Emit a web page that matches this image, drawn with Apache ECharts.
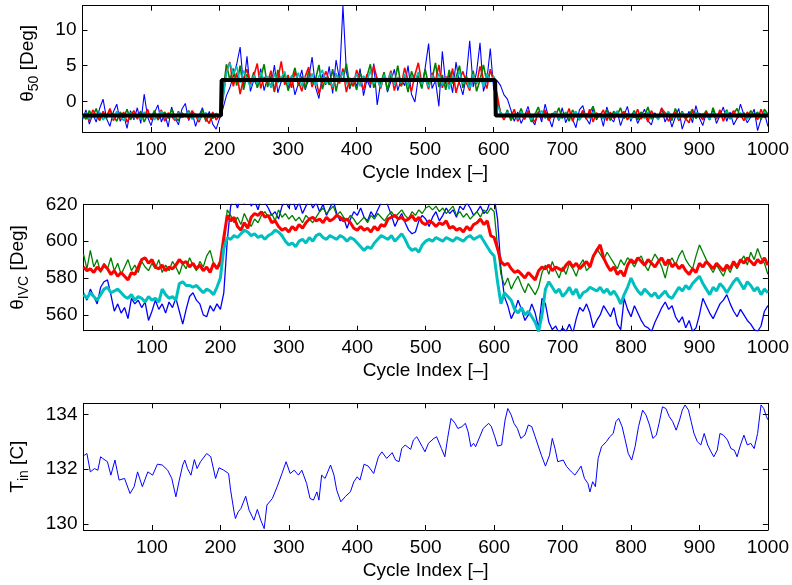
<!DOCTYPE html>
<html>
<head>
<meta charset="utf-8">
<script src="https://cdn.jsdelivr.net/npm/echarts@6/dist/echarts.min.js"></script>
<style>html,body{margin:0;padding:0;background:#fff}#c{width:792px;height:585px}</style>
</head>
<body>
<div id="c"></div>
<script>
// ---------- tick labels ----------
const X_TICKS = [100, 200, 300, 400, 500, 600, 700, 800, 900, 1000];
const Y1_TICKS = [0, 5, 10];
const Y2_TICKS = [560, 580, 600, 620];
const Y3_TICKS = [130, 132, 134];

// sampled cycles (every 5th cycle, 0..1000) for panels 1 and 2
const CYCLE_STEP = 5;
const CYCLES = [];
for (let i = 0; i <= 200; i++) CYCLES.push(i * CYCLE_STEP);

// ---------- panel 1: theta_50 ----------
const TH50_BLUE = [
-2.6,-1.2,-3.2,-1.8,-2.9,-1.0,0.3,-2.4,-3.5,-1.5,-0.4,-2.8,-1.9,-3.8,-1.3,-2.6,-0.9,-3.1,1.0,-2.2,
-3.4,-1.6,-0.5,-2.9,-1.7,-3.6,-0.8,-2.3,-3.3,-1.1,-0.3,-2.7,-1.5,-3.5,-2.0,-0.9,-2.8,-1.4,-3.2,-3.9,-2.4,
-1.0,0.8,1.9,3.5,5.2,7.6,2.1,6.3,1.4,3.0,2.2,4.6,1.5,3.4,2.0,5.1,1.2,2.8,4.0,1.8,
3.6,0.9,2.5,4.4,1.6,3.2,6.2,2.0,0.4,3.8,2.3,4.9,1.1,5.8,3.0,13.4,4.2,1.7,3.3,2.1,
4.6,0.8,3.0,1.9,5.3,-0.5,2.6,3.9,1.3,2.8,4.5,1.5,3.1,2.2,5.0,1.0,-0.1,3.4,2.0,4.7,
8.1,1.8,2.9,-0.7,7.0,2.4,3.8,1.2,5.5,2.6,0.9,3.5,8.5,2.0,4.1,8.2,1.4,3.0,7.4,1.6,
2.9,2.2,0.9,0.3,-1.2,-2.8,-1.5,-3.1,-2.0,-0.7,-2.5,-3.3,-1.4,-2.9,-0.4,-2.2,-3.6,-1.6,-2.7,-0.9,
-3.0,-1.8,-2.5,-3.7,-1.2,-0.6,-2.4,-3.2,-1.0,-2.6,-1.7,-3.5,-0.8,-2.3,-2.9,-1.3,-3.4,-2.0,-0.7,-2.8,
-1.5,-3.1,-2.1,-1.1,-2.7,-3.3,-1.6,-2.4,-0.9,-2.9,-1.8,-3.6,-2.2,-1.0,-3.9,-2.5,-1.4,-3.0,-0.6,-2.3,
-3.4,-1.7,-2.6,-1.2,-3.1,-2.0,-0.8,-2.8,-1.5,-3.3,-2.4,-0.4,-1.9,-3.0,-2.2,-1.1,-4.1,-2.5,-1.6,-3.5];
const TH50_GREEN = [
-1.9,-2.5,-1.3,-2.2,-1.0,-2.7,-1.6,-2.4,-1.2,-2.0,-2.8,-1.5,-2.3,-1.1,-2.6,-1.7,-2.1,-1.4,-2.9,-1.8,
-2.3,-1.3,-2.6,-2.0,-1.5,-2.4,-1.1,-2.2,-2.7,-1.6,-2.0,-1.3,-2.5,-1.8,-2.2,-1.2,-2.8,-1.9,-2.4,-1.7,-2.1,
1.2,5.2,3.0,4.6,2.2,5.0,1.6,3.8,2.5,4.1,1.9,3.3,5.2,2.0,3.6,1.3,4.4,2.7,3.9,1.5,
3.0,4.7,2.2,3.5,1.8,4.3,2.6,3.1,5.1,1.7,3.4,2.3,4.5,1.4,3.7,2.9,5.3,2.0,3.2,1.6,
4.0,2.8,3.5,5.2,1.9,3.3,2.4,4.1,1.5,3.8,2.6,5.0,2.1,3.4,1.3,4.2,2.9,3.6,1.8,4.5,
2.3,3.1,5.4,2.0,3.7,1.6,4.4,2.5,3.3,5.0,1.9,3.6,2.2,4.3,1.4,3.0,5.1,2.7,4.2,3.4,
0.0,-1.5,-2.4,-1.2,-2.7,-1.8,-2.2,-1.0,-2.5,-1.6,-2.9,-1.9,-0.8,-2.3,-1.4,-2.6,-1.7,-2.1,-0.9,-2.4,
-1.5,-2.8,-1.2,-2.0,-2.6,-1.3,-2.2,-1.6,-0.7,-2.5,-1.8,-2.3,-1.1,-2.7,-1.4,-2.0,-0.9,-2.4,-1.7,-2.2,
-1.3,-2.6,-1.5,-2.1,-0.8,-2.5,-1.8,-2.3,-1.2,-2.0,-1.6,-2.7,-1.0,-2.2,-1.4,-2.5,-1.9,-1.1,-2.4,-1.7,
-2.1,-1.3,-2.6,-0.9,-2.3,-1.5,-2.0,-1.2,-2.5,-1.8,-1.0,-2.2,-1.6,-2.4,-1.3,-2.0,-1.5,-2.6,-1.1,-1.8];
const TH50_RED = [
-2.3,-1.6,-2.8,-1.2,-2.1,-2.6,-1.4,-2.2,-1.0,-2.7,-1.8,-2.4,-1.5,-2.9,-2.0,-1.3,-2.5,-1.7,-2.2,-1.1,
-2.6,-1.9,-2.4,-1.2,-2.8,-1.6,-2.1,-2.7,-1.4,-2.3,-1.8,-2.5,-1.3,-2.0,-2.9,-1.7,-2.4,-3.1,-1.5,-2.6,-2.0,
0.5,4.2,5.5,2.1,4.0,1.0,3.2,4.5,2.4,3.6,5.3,1.8,3.4,2.6,4.3,1.5,3.1,5.6,2.3,3.7,
1.9,4.1,2.8,1.4,3.5,4.8,2.0,3.3,1.1,2.7,4.2,3.0,1.7,3.9,2.5,4.6,1.3,3.2,2.1,4.4,
2.9,1.6,3.8,2.4,5.0,3.1,1.8,3.6,2.7,4.3,1.5,3.4,2.2,4.7,2.9,1.4,3.7,5.4,2.5,3.3,
1.7,4.0,2.8,5.1,1.9,3.5,2.3,4.6,1.2,3.0,4.2,2.6,1.5,3.8,2.4,4.9,3.1,1.8,4.5,2.7,
1.0,-1.8,-2.6,-1.5,-2.3,-1.1,-2.8,-1.9,-2.5,-1.3,-2.2,-2.9,-1.6,-2.4,-1.2,-2.7,-2.0,-1.4,-2.6,-1.8,
-2.3,-1.0,-2.8,-1.7,-2.2,-1.3,-2.5,-1.1,-2.9,-1.6,-2.0,-1.2,-2.7,-1.5,-2.4,-1.8,-2.2,-1.4,-2.6,-1.9,
-2.3,-1.1,-2.5,-1.7,-2.9,-1.3,-2.1,-2.4,-1.0,-1.6,-2.8,-2.0,-1.5,-2.7,-1.9,-2.4,-3.0,-1.3,-2.2,-1.8,
-2.6,-1.4,-2.3,-1.7,-2.5,-1.2,-2.8,-1.6,-2.1,-1.3,-2.4,-1.9,-2.7,-1.5,-2.2,-1.8,-2.6,-1.1,-2.3,-1.9];
const TH50_CYAN = [
-2.2,-1.6,-2.5,-1.8,-2.3,-1.5,-2.6,-2.0,-1.7,-2.4,-1.4,-2.1,-2.7,-1.9,-1.6,-2.3,-2.0,-2.5,-1.5,-2.2,
-1.8,-2.6,-1.9,-1.4,-2.3,-2.1,-1.7,-2.5,-1.6,-2.2,-2.0,-1.5,-2.4,-1.8,-2.6,-1.9,-1.6,-2.3,-2.0,-1.7,-2.2,
0.2,4.0,5.4,3.8,4.9,2.6,4.3,3.1,2.0,3.7,2.4,4.1,2.9,3.5,1.9,3.9,2.6,3.3,4.2,2.3,
3.6,2.8,4.0,2.1,3.4,2.7,3.9,2.2,3.5,4.4,2.5,3.2,2.0,3.8,2.9,4.1,2.4,3.3,2.7,3.9,
2.1,3.6,2.8,4.3,2.5,3.1,2.0,3.7,2.9,4.0,2.3,3.4,2.6,3.8,2.2,3.5,2.8,4.1,2.4,3.2,
2.0,3.7,2.7,3.9,2.3,3.4,1.7,3.6,2.9,4.2,2.5,3.1,1.8,3.8,2.6,3.3,2.1,3.9,2.7,3.5,
-0.5,-1.6,-2.3,-1.5,-2.1,-1.8,-2.5,-1.4,-2.2,-1.9,-2.6,-1.7,-2.0,-1.3,-2.4,-1.8,-2.2,-1.5,-2.5,-2.0,
-1.6,-2.3,-1.9,-1.4,-2.6,-2.0,-1.7,-2.4,-1.5,-2.1,-1.8,-2.5,-1.6,-2.2,-1.9,-1.4,-2.3,-2.0,-1.7,-2.5,
-1.6,-2.1,-1.8,-2.4,-1.5,-2.2,-1.9,-2.6,-1.7,-2.0,-1.4,-2.3,-1.8,-2.5,-1.6,-2.1,-1.9,-2.4,-1.5,-2.2,
-1.7,-2.0,-2.5,-1.6,-2.3,-1.8,-2.1,-1.4,-2.4,-1.9,-2.2,-1.6,-2.0,-2.5,-1.7,-2.1,-1.8,-2.3,-1.5,-2.0];
// reference (set point) step
const REF_CYCLE = [0, 202, 203, 602, 603, 1000];
const REF_TH50 = [-2, -2, 3, 3, -2, -2];

// ---------- panel 2: theta_IVC ----------
const IVC_BLUE = [
572,568,574,570,566,575,578,579,571,562,566,561,564,558,569,566,568,564,567,557,
562,568,563,566,561,567,564,569,562,555,563,570,572,568,566,560,559,565,562,566,563,
572,600,619,623,618,624,620,626,619,622,617,624,621,618,614,616,612,619,622,618,
624,617,621,615,619,623,618,621,616,620,614,618,622,615,611,613,607,612,616,614,
618,613,611,616,613,617,621,624,619,614,608,612,615,610,606,604,605,611,614,612,
608,613,616,611,614,618,615,617,613,619,617,621,618,614,616,619,615,617,622,624,
612,585,570,565,558,562,568,563,557,560,566,561,553,569,566,556,552,554,550,553,
551,555,550,558,564,562,566,561,553,557,560,565,562,559,564,555,552,569,563,559,
565,561,557,554,553,551,556,560,564,567,563,565,559,556,559,553,557,551,553,560,
569,565,561,558,562,566,568,571,566,562,559,563,560,557,555,552,551,554,562,565];
const IVC_GREEN = [
593,585,595,586,590,583,588,585,591,584,588,582,586,590,584,587,583,589,586,584,
588,585,590,583,587,584,589,586,582,588,585,591,587,584,589,586,592,595,588,585,587,
598,617,614,610,613,609,615,611,608,612,610,614,616,613,615,611,617,613,615,612,
614,611,613,610,614,612,610,613,616,618,615,617,619,614,616,613,611,614,612,609,
611,613,610,614,612,615,613,611,614,616,613,615,617,614,612,616,614,617,615,618,
619,617,619,616,618,615,617,619,614,616,613,615,612,614,616,613,617,615,618,616,
597,582,576,580,574,578,581,576,572,577,574,571,575,583,587,582,589,584,580,586,
582,588,585,581,587,590,584,586,591,596,593,590,594,591,588,585,590,587,591,589,
586,590,592,587,584,589,593,590,586,580,588,591,587,592,595,590,587,585,592,598,
594,590,586,583,587,584,581,586,583,588,585,589,592,587,594,590,596,591,588,582];
const IVC_RED = [
586,584,585,583,586,584,587,585,582,584,581,583,581,579,583,582,586,590,591,588,
590,586,585,587,584,586,585,587,590,588,589,586,588,585,587,584,586,583,588,585,589,
602,614,611,613,608,606,610,607,613,615,614,616,613,614,610,611,608,606,607,605,
608,606,609,607,610,612,613,611,612,610,613,611,612,614,613,611,612,610,607,606,
608,606,607,605,608,606,609,608,612,613,614,612,613,611,612,614,611,613,610,609,
611,610,608,610,609,611,607,608,606,607,605,608,606,609,610,612,609,611,603,602,
596,589,587,588,585,583,584,582,580,583,581,579,584,586,585,587,584,586,585,584,
587,589,586,588,585,587,589,586,592,595,598,591,587,584,586,582,584,581,587,590,
588,591,589,587,590,588,586,589,591,587,590,586,588,585,587,584,582,585,583,588,
586,589,587,585,588,586,584,587,585,589,586,590,588,591,589,587,590,588,591,587];
const IVC_CYAN = [
571,569,572,570,568,571,574,575,572,573,574,572,570,569,571,568,570,569,567,570,
568,569,567,574,571,569,570,568,577,578,576,576,575,576,574,572,574,573,571,575,580,
596,602,601,603,602,604,606,605,603,604,602,603,601,603,604,606,605,603,600,598,
599,597,600,601,599,602,600,603,604,602,601,603,602,601,603,602,600,602,601,599,
597,595,597,596,599,601,603,602,601,603,600,602,604,601,597,595,596,594,598,600,
601,600,602,601,600,602,601,600,602,601,600,602,603,601,602,603,600,597,594,592,
578,566,572,570,568,563,561,564,560,562,559,556,551,560,574,578,575,572,574,570,
572,575,571,574,569,572,573,575,574,573,575,572,574,571,573,570,566,571,575,580,
576,573,571,574,572,570,572,569,571,573,570,569,572,575,573,576,574,577,579,581,
577,574,571,575,573,577,575,572,575,578,580,577,574,578,576,573,575,571,574,572];

// ---------- panel 3: T_in ----------
const T_CYCLE = [1,5,10,16,21,25,28,35,40,46,52,60,68,74,79,86,94,101,108,115,
123,129,135,140,145,148,152,157,162,166,171,180,186,193,198,205,212,215,220,222,
226,230,237,242,249,254,259,264,268,276,283,290,296,302,308,314,319,326,331,336,
341,344,348,353,361,366,370,376,383,390,395,400,404,410,416,424,431,436,443,451,
456,461,465,470,478,482,487,495,499,504,512,516,523,528,532,537,543,547,553,558,
562,566,570,573,579,584,592,596,601,605,611,616,620,625,629,634,639,645,650,655,
660,664,669,675,681,685,689,693,701,706,713,718,723,727,732,737,740,744,748,752,
757,764,769,774,778,782,787,791,796,801,806,811,817,822,827,832,837,841,846,851,
856,861,866,871,875,879,884,888,892,897,902,907,912,917,921,926,930,935,941,946,
951,955,960,965,970,975,980,985,990,994,998,1000];
const T_IN = [132.5,132.57,131.9,132.02,131.96,132.45,132.39,132.27,131.78,132.33,
131.6,131.66,131.11,131.36,131.9,131.36,131.9,131.78,132.18,132.15,
131.96,131.66,130.99,131.6,132.15,132.33,132.02,131.78,132.35,132.02,
132.27,132.57,132.45,131.66,132.05,131.96,131.84,131.23,130.44,130.2,
130.44,130.56,131.01,130.5,130.14,130.53,130.14,129.83,130.69,130.93,
131.36,131.84,132.27,131.84,131.96,131.78,131.96,131.48,130.93,130.87,
131.17,130.87,131.78,131.66,132.15,131.78,131.23,130.81,131.01,131.17,
131.54,131.72,131.6,132.18,132.11,131.84,132.45,132.63,132.39,132.6,
132.33,132.27,132.75,132.88,132.72,133.06,133.18,132.82,132.63,132.94,
133.12,133.18,132.75,132.45,133.12,133.85,133.67,133.48,133.55,133.67,
133.36,132.82,132.94,132.82,133.18,133.48,133.67,133.55,133.18,132.84,
132.88,133.79,134.21,133.97,133.67,133.48,133.12,133.24,133.61,133.55,
133.18,132.88,132.51,132.11,132.51,133.12,132.75,132.27,132.33,132.09,
131.9,131.78,131.96,132.11,131.66,131.48,131.17,131.54,131.36,132.39,
132.82,133.0,133.18,133.3,133.73,133.85,133.55,133.12,132.57,132.33,
132.82,133.55,134.15,133.97,133.61,133.12,133.24,133.67,134.27,134.21,
133.91,133.73,133.42,133.79,134.15,134.34,134.15,133.73,133.3,133.0,
132.88,133.3,132.88,132.63,132.45,132.69,133.3,133.24,133.06,132.75,
132.69,132.45,132.88,133.24,132.88,132.94,132.75,133.3,134.34,134.21,
133.91,133.8];

// ---------- chart ----------
const FONT = 'Liberation Sans, Arial, Helvetica, sans-serif';
const BLACK = '#000';
const C_BLUE = '#0000ff', C_GREEN = '#008000', C_RED = '#ff0000', C_CYAN = '#00bfbf';

function pairs(xs, ys) { return ys.map((y, i) => [xs[i], y]); }

const GRIDS = [
  { left: 82.5, top: 5.7, width: 685.5, height: 126.3 },
  { left: 82.5, top: 204.3, width: 685.5, height: 126.4 },
  { left: 82.5, top: 403.3, width: 685.5, height: 126.7 }
];
const Y_RANGES = [[-4.3, 13.41], [551.44, 620], [129.78, 134.4]];
const Y_TICKS = [Y1_TICKS, Y2_TICKS, Y3_TICKS];
const Y_NAMES = ['{m|\u03b8}{s|50}{m| [Deg]}', '{m|\u03b8}{s|IVC}{m| [Deg]}', '{m|T}{s|in}{m| [C]}'];
const Y_NAME_GAP = [41, 52, 52];
const Y_NAME_PAD = [[0, 0, 0, 11], [0, 0, 0, 0], [0, 0, 0, 0]];

const xAxes = [], yAxes = [];
GRIDS.forEach((g, gi) => {
  ['bottom', 'top'].forEach((pos) => {
    xAxes.push({
      type: 'value', gridIndex: gi, position: pos, min: 0, max: 1000, interval: 100,
      axisLine: { show: true, onZero: false, lineStyle: { color: BLACK, width: 1 } },
      axisTick: { show: true, inside: true, length: 5, lineStyle: { color: BLACK, width: 1 } },
      axisLabel: {
        show: pos === 'bottom', showMinLabel: false, fontSize: 19, color: BLACK, fontFamily: FONT, margin: 8,
        formatter: (v) => String(v)
      },
      splitLine: { show: false },
      name: pos === 'bottom' ? 'Cycle Index [\u2013]' : '',
      nameLocation: 'middle', nameGap: 31,
      nameTextStyle: { fontSize: 19, color: BLACK, fontFamily: FONT }
    });
  });
  ['left', 'right'].forEach((pos) => {
    yAxes.push({
      type: 'value', gridIndex: gi, position: pos, min: Y_RANGES[gi][0], max: Y_RANGES[gi][1],
      axisLine: { show: true, onZero: false, lineStyle: { color: BLACK, width: 1 } },
      axisTick: { show: true, inside: true, length: 5, customValues: Y_TICKS[gi], lineStyle: { color: BLACK, width: 1 } },
      axisLabel: {
        show: pos === 'left', customValues: Y_TICKS[gi], fontSize: 19, color: BLACK, fontFamily: FONT, margin: 6,
        formatter: (v) => String(v)
      },
      splitLine: { show: false },
      name: pos === 'left' ? Y_NAMES[gi] : '',
      nameLocation: 'middle', nameGap: Y_NAME_GAP[gi],
      nameTextStyle: {
        color: BLACK, fontFamily: FONT, padding: Y_NAME_PAD[gi],
        rich: {
          m: { fontSize: 19, lineHeight: 28, color: BLACK, fontFamily: FONT },
          s: { fontSize: 14, lineHeight: 10, verticalAlign: 'bottom', color: BLACK, fontFamily: FONT }
        }
      }
    });
  });
});

function line(gi, data, color, width) {
  return {
    type: 'line', xAxisIndex: gi * 2, yAxisIndex: gi * 2, data: data,
    showSymbol: false, symbol: 'none', clip: true, silent: true,
    lineStyle: { color: color, width: width }, itemStyle: { color: color }
  };
}

const series = [
  line(0, pairs(CYCLES, TH50_BLUE), C_BLUE, 1.1),
  line(0, pairs(CYCLES, TH50_GREEN), C_GREEN, 1.6),
  line(0, pairs(CYCLES, TH50_RED), C_RED, 1.6),
  line(0, pairs(CYCLES, TH50_CYAN), C_CYAN, 1.6),
  line(0, pairs(REF_CYCLE, REF_TH50), BLACK, 4),
  line(1, pairs(CYCLES, IVC_BLUE), C_BLUE, 1.3),
  line(1, pairs(CYCLES, IVC_GREEN), C_GREEN, 1.3),
  line(1, pairs(CYCLES, IVC_RED), C_RED, 3),
  line(1, pairs(CYCLES, IVC_CYAN), C_CYAN, 3),
  line(2, pairs(T_CYCLE, T_IN), C_BLUE, 1)
];

const chart = echarts.init(document.getElementById('c'), null, { renderer: 'canvas' });
chart.setOption({
  animation: false,
  backgroundColor: '#fff',
  grid: GRIDS,
  xAxis: xAxes,
  yAxis: yAxes,
  series: series
});
</script>
</body>
</html>
